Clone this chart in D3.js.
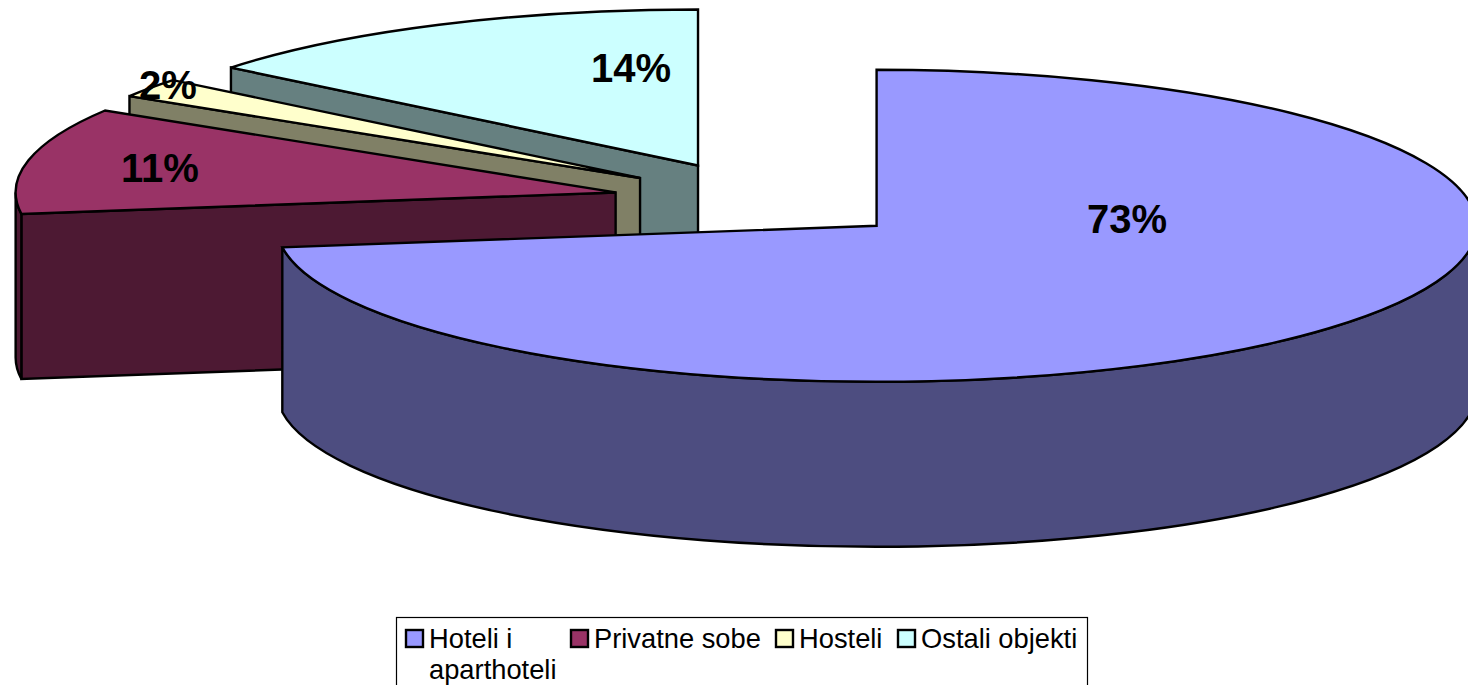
<!DOCTYPE html>
<html>
<head>
<meta charset="utf-8">
<script src="https://cdn.jsdelivr.net/npm/d3@7"></script>
<style>
  body { margin: 0; background: #fff; overflow: hidden; }
  svg { display: block; }
  text { font-family: "Liberation Sans", Arial, sans-serif; fill: #000; }
</style>
</head>
<body>
<div id="chart"></div>
<script>
// Chart data
var categories = ["Hoteli i aparthoteli", "Privatne sobe", "Hosteli", "Ostali objekti"];
var values = [72.8, 11, 2, 14.2];
var topColors = ["#9999ff", "#993366", "#ffffcc", "#ccffff"];
var wallColors = ["#4d4d80", "#4d1933", "#808066", "#668080"];
var legendLines = [["Hoteli i", "aparthoteli"], ["Privatne sobe"], ["Hosteli"], ["Ostali objekti"]];

var width = 1468, height = 685;
var cx = 763, cy = 200.4;     // centre of the pie before exploding
var rx = 600, ry = 156;       // ellipse radii of one slice
var explodeX = 150.6, explodeY = 38.7;
var depth = 165;

var labelPos = [[1127, 219], [160, 168], [168, 85], [631, 68]];
var legendSwatchX = d3.scaleOrdinal(categories, [406, 571, 776, 898]);

var svg = d3.select("#chart").append("svg")
  .attr("width", width)
  .attr("height", height);

var pie = d3.pie().sort(null).value(function (d) { return d; });
var arcs = pie(values);

// unit scales for the flattened pie
var xUnit = d3.scaleLinear().domain([-1, 1]).range([-rx, rx]);
var yUnit = d3.scaleLinear().domain([-1, 1]).range([ry, -ry]);

function apex(d) {
  var mid = (d.startAngle + d.endAngle) / 2;
  return [cx + explodeX * Math.sin(mid), cy - explodeY * Math.cos(mid)];
}

function rim(c, angle, dy) {
  return [c[0] + xUnit(Math.sin(angle)), c[1] + yUnit(Math.cos(angle)) + (dy || 0)];
}

function arcTo(p, a0, a1, sweep) {
  var large = Math.abs(a1 - a0) > Math.PI ? 1 : 0;
  return "A" + rx + "," + ry + " 0 " + large + " " + sweep + " " + p[0] + "," + p[1];
}

function topPath(d) {
  var c = apex(d);
  return "M" + c + "L" + rim(c, d.startAngle) +
    arcTo(rim(c, d.endAngle), d.startAngle, d.endAngle, 1) + "Z";
}

// radial face on the start edge, only when it looks at the viewer
function radialWall(d) {
  if (d.startAngle < Math.PI) return null;
  var c = apex(d), r = rim(c, d.startAngle);
  return "M" + c + "L" + r + "L" + [r[0], r[1] + depth] + "L" + [c[0], c[1] + depth] + "Z";
}

// outer face, front half of the ellipse only
function outerWall(d) {
  var a0 = Math.max(d.startAngle, Math.PI / 2);
  var a1 = Math.min(d.endAngle, Math.PI * 3 / 2);
  if (a1 <= a0) return null;
  var c = apex(d);
  return "M" + rim(c, a0) + arcTo(rim(c, a1), a0, a1, 1) +
    "L" + rim(c, a1, depth) + arcTo(rim(c, a0, depth), a0, a1, 0) + "Z";
}

// back to front so the nearer slices cover the walls behind them
var order = [3, 2, 1, 0];
var slices = svg.selectAll(".slice")
  .data(order.map(function (i) { return arcs[i]; }))
  .enter().append("g")
  .attr("class", "slice")
  .attr("stroke", "#000")
  .attr("stroke-width", 2.4)
  .attr("stroke-linejoin", "miter")
  .attr("stroke-miterlimit", 2);

slices.filter(radialWall).append("path")
  .attr("d", radialWall)
  .attr("fill", function (d) { return wallColors[d.index]; });

slices.filter(outerWall).append("path")
  .attr("d", outerWall)
  .attr("fill", function (d) { return wallColors[d.index]; });

slices.append("path")
  .attr("d", topPath)
  .attr("fill", function (d) { return topColors[d.index]; });

// Percent labels
svg.selectAll(".pct")
  .data(arcs)
  .enter().append("text")
  .attr("class", "pct")
  .attr("x", function (d) { return labelPos[d.index][0]; })
  .attr("y", function (d) { return labelPos[d.index][1] + 14; })
  .attr("text-anchor", "middle")
  .attr("font-size", "40px")
  .attr("font-weight", "bold")
  .text(function (d) { return Math.round(d.data) + "%"; });

// Legend
var legend = svg.append("g").attr("class", "legend");

legend.append("rect")
  .attr("x", 396.5)
  .attr("y", 617.5)
  .attr("width", 691)
  .attr("height", 90)
  .attr("fill", "#fff")
  .attr("stroke", "#000")
  .attr("stroke-width", 1.2);

var items = legend.selectAll(".item")
  .data(categories)
  .enter().append("g")
  .attr("class", "item")
  .attr("transform", function (d) { return "translate(" + legendSwatchX(d) + ",630)"; });

items.append("rect")
  .attr("width", 17)
  .attr("height", 17)
  .attr("fill", function (d, i) { return topColors[i]; })
  .attr("stroke", "#000")
  .attr("stroke-width", 2.4);

items.append("text")
  .attr("font-size", "27.3px")
  .selectAll("tspan")
  .data(function (d, i) { return legendLines[i]; })
  .enter().append("tspan")
  .attr("x", 23)
  .attr("y", function (d, i) { return 18 + i * 31; })
  .text(function (d) { return d; });
</script>
</body>
</html>
